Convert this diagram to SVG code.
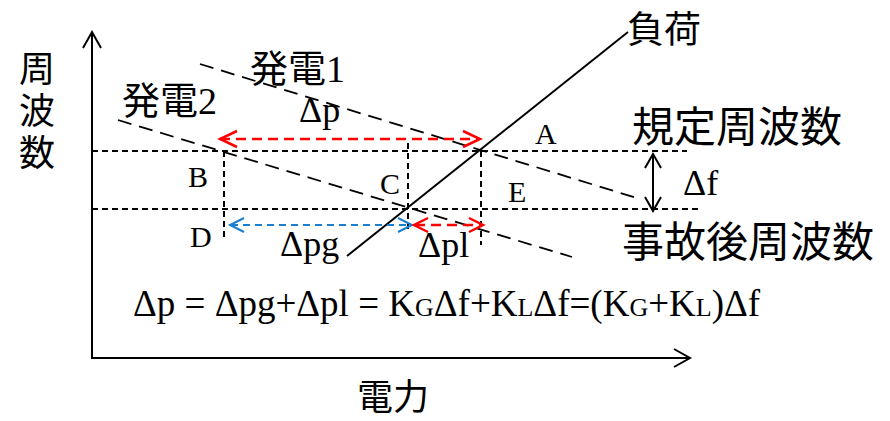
<svg xmlns="http://www.w3.org/2000/svg" width="890" height="421" viewBox="0 0 890 421">
  <style>
    .jp { font-family: "Noto Sans CJK JP", "Noto Sans", sans-serif; fill: #000; }
    .tm { font-family: "Liberation Serif", "Times New Roman", serif; fill: #000; }
    .axis { stroke: #000; stroke-width: 2; fill: none; }
    .ref { stroke: #000; stroke-width: 2; stroke-dasharray: 6 4; fill: none; }
    .gen { stroke: #000; stroke-width: 1.8; stroke-dasharray: 14 8; fill: none; }
    .load { stroke: #000; stroke-width: 2; fill: none; }
    .red { stroke: #ff0000; stroke-width: 2.5; stroke-dasharray: 10 6; fill: none; }
    .blue { stroke: #1a7fd0; stroke-width: 2; stroke-dasharray: 7 5; fill: none; }
    .redhead { stroke: #ff0000; stroke-width: 2.5; fill: none; }
    .bluehead { stroke: #1a7fd0; stroke-width: 2; fill: none; }
    .head { stroke: #000; stroke-width: 2; fill: none; }
  </style>
  <rect width="890" height="421" fill="#fff"/>

  <!-- axes -->
  <g id="axes">
    <polyline class="axis" points="92,32 92,358 690,358"/>
    <polyline class="head" points="83,48 92,32 101,48"/>
    <polyline class="head" points="674,349 690,358 674,367"/>
  </g>

  <g id="connectors">
    <!-- frequency reference lines -->
    <line class="ref" x1="92" y1="151" x2="687" y2="151"/>
    <line class="ref" x1="92" y1="209" x2="702" y2="209"/>
    <!-- vertical projections -->
    <line class="ref" x1="224" y1="151" x2="224" y2="241"/>
    <line class="ref" x1="408" y1="143" x2="408" y2="232"/>
    <line class="ref" x1="481" y1="151" x2="481" y2="245"/>
    <!-- generator characteristics -->
    <line class="gen" x1="200" y1="64" x2="640" y2="199"/>
    <line class="gen" x1="118" y1="120" x2="572" y2="257"/>
    <!-- load characteristic -->
    <line class="load" x1="347" y1="256" x2="628" y2="32"/>
    <!-- Δp -->
    <line class="red" x1="220" y1="139" x2="479" y2="139"/>
    <polyline class="redhead" points="237,131 220,139 237,147"/>
    <polyline class="redhead" points="463,131 480,139 463,147"/>
    <!-- Δpg -->
    <line class="blue" x1="231" y1="225" x2="410" y2="225"/>
    <polyline class="bluehead" points="244,218 230,225 244,232"/>
    <polyline class="bluehead" points="398,218 412,225 398,232"/>
    <!-- Δpl -->
    <line class="red" x1="415" y1="225" x2="481" y2="225"/>
    <polyline class="redhead" points="428,218 414,225 428,232"/>
    <polyline class="redhead" points="469,218 483,225 469,232"/>
    <!-- Δf -->
    <line class="head" x1="653" y1="154" x2="653" y2="211"/>
    <polyline class="head" points="645,168 653,154 661,168"/>
    <polyline class="head" points="645,197 653,211 661,197"/>
  </g>

  <!-- axis titles -->
  <g id="label-freq">
    <text class="jp" x="37" y="50" font-size="36" writing-mode="tb" letter-spacing="6">周波数</text>
  </g>
  <g id="label-power">
    <text class="jp" x="393" y="410" font-size="36" text-anchor="middle">電力</text>
  </g>

  <!-- curve names -->
  <g id="gen1"><text x="250" y="82" font-size="38"><tspan class="jp">発電</tspan><tspan class="tm">1</tspan></text></g>
  <g id="gen2"><text x="122" y="114" font-size="38"><tspan class="jp">発電</tspan><tspan class="tm">2</tspan></text></g>
  <g id="load"><text class="jp" x="627" y="43" font-size="37">負荷</text></g>
  <g id="nominal"><text class="jp" x="632" y="142" font-size="42">規定周波数</text></g>
  <g id="after"><text class="jp" x="622" y="257" font-size="42">事故後周波数</text></g>

  <!-- point labels -->
  <g id="pA"><text class="tm" x="535" y="144" font-size="30">A</text></g>
  <g id="pB"><text class="tm" x="188" y="187" font-size="30">B</text></g>
  <g id="pC"><text class="tm" x="380" y="194" font-size="30">C</text></g>
  <g id="pD"><text class="tm" x="190" y="247" font-size="30">D</text></g>
  <g id="pE"><text class="tm" x="508" y="202" font-size="30">E</text></g>

  <!-- quantities -->
  <g id="dp"><text class="tm" x="299" y="122" font-size="36">Δp</text></g>
  <g id="df"><text class="tm" x="683" y="195" font-size="36">Δf</text></g>
  <g id="dpg"><text class="tm" x="280" y="256" font-size="36">Δpg</text></g>
  <g id="dpl"><text class="tm" x="418" y="257" font-size="36">Δpl</text></g>

  <g id="formula">
    <text class="tm" x="133" y="316" font-size="37">Δp = Δpg+Δpl = K<tspan font-size="26">G</tspan>Δf+K<tspan font-size="26">L</tspan>Δf=(K<tspan font-size="26">G</tspan>+K<tspan font-size="26">L</tspan>)Δf</text>
  </g>
</svg>
